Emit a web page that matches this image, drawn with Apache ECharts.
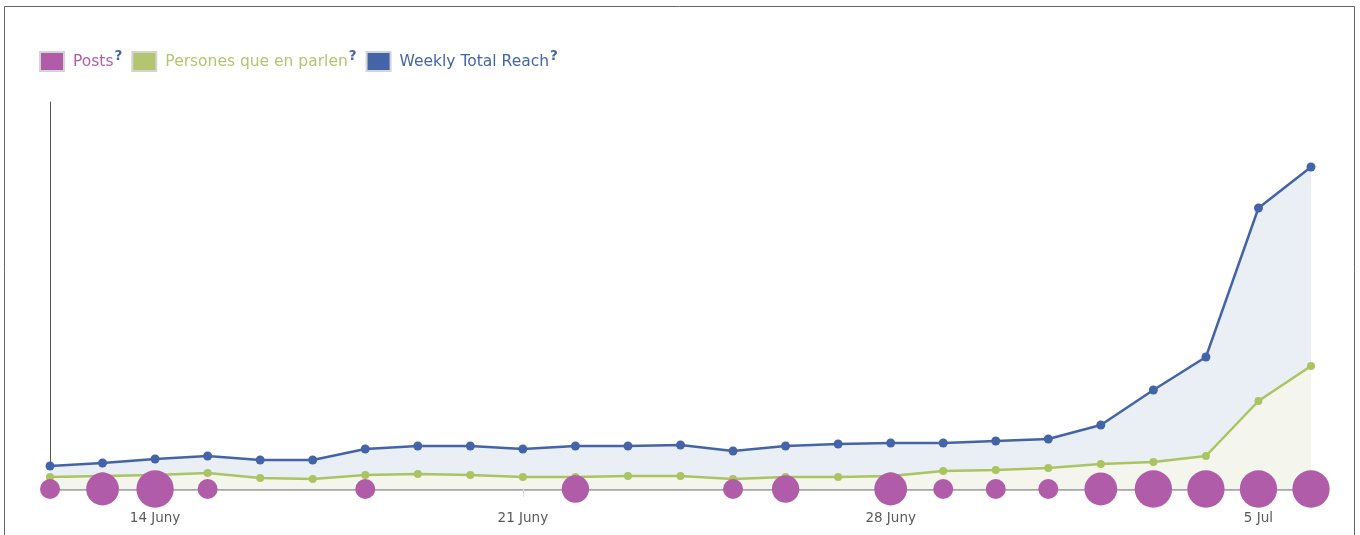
<!DOCTYPE html>
<html>
<head>
<meta charset="utf-8">
<script src="https://cdn.jsdelivr.net/npm/echarts@6/dist/echarts.min.js"></script>
<style>
    html,body{margin:0;padding:0;background:#fff;}
    #chart{width:1360px;height:535px;}
</style>
</head>
<body>
<div id="chart"></div>
<script>
    // dies del periode
    var days = ['12 Juny','13 Juny','14 Juny','15 Juny','16 Juny','17 Juny','18 Juny','19 Juny','20 Juny',
        '21 Juny','22 Juny','23 Juny','24 Juny','25 Juny','26 Juny','27 Juny','28 Juny','29 Juny','30 Juny',
        '1 Jul','2 Jul','3 Jul','4 Jul','5 Jul','6 Jul'];
    var labelDays = ['14 Juny','21 Juny','28 Juny','5 Jul'];
    var reach = [575,650,750,825,725,725,1000,1075,1075,1000,1075,1075,1100,950,1075,1125,1150,1150,1200,1250,1600,2475,3300,7025,8050];
    var talking = [300,325,350,400,275,250,350,375,350,300,300,325,325,250,300,300,325,450,475,525,625,675,825,2200,3075];
    var posts = [1,3,4,1,0,0,1,0,0,0,2,0,0,1,2,0,3,1,1,1,3,4,4,4,4];

    var PINK = '#b05ca8', GREEN = '#aac462', BLUE = '#4464a8';

    var container = document.getElementById('chart');
    var myChart = echarts.init(container);

    var keyOf = {'Posts':'p','Persones que en parlen':'g','Weekly Total Reach':'b'};

    myChart.setOption({
        animation:false,
        graphic:[{
            type:'rect',
            shape:{x:4.5,y:6.5,width:1350,height:560},
            style:{fill:'none',stroke:'#666',lineWidth:1},
            silent:true
        }],
        legend:{
            left:34,
            top:44,
            itemWidth:24,
            itemHeight:19,
            itemGap:9,
            icon:'rect',
            selectedMode:false,
            data:[
                {name:'Posts',itemStyle:{color:PINK,borderColor:'#d4d4d4',borderWidth:2}},
                {name:'Persones que en parlen',itemStyle:{color:'#b3c56e',borderColor:'#d4d4d4',borderWidth:2}},
                {name:'Weekly Total Reach',itemStyle:{color:BLUE,borderColor:'#d4d4d4',borderWidth:2}}
            ],
            formatter:function(name){
                return '{' + keyOf[name] + '|' + name + '}{q|?}';
            },
            textStyle:{
                fontFamily:'DejaVu Sans',
                fontSize:15.5,
                rich:{
                    p:{color:PINK,fontFamily:'DejaVu Sans',fontSize:15.5,padding:[0,0,0,4]},
                    g:{color:'#b3c56e',fontFamily:'DejaVu Sans',fontSize:15.5,padding:[0,0,0,4]},
                    b:{color:BLUE,fontFamily:'DejaVu Sans',fontSize:15.5,padding:[0,0,0,4]},
                    q:{color:BLUE,fontFamily:'DejaVu Sans',fontSize:13.5,fontWeight:'bold',padding:[0,0,11,1]}
                }
            }
        },
        grid:{left:50,right:49,top:102,bottom:46},
        xAxis:{
            type:'category',
            data:days,
            boundaryGap:false,
            axisLine:{lineStyle:{color:'#a6a6a6',width:2.5}},
            axisTick:{
                show:true,
                length:8,
                interval:function(i,v){return labelDays.indexOf(v) >= 0;},
                lineStyle:{color:'#dddddd'}
            },
            axisLabel:{
                interval:function(i,v){return labelDays.indexOf(v) >= 0;},
                margin:22,
                color:'#5a5a5a',
                fontFamily:'DejaVu Sans',
                fontSize:13.5
            },
            splitLine:{show:false}
        },
        yAxis:{
            type:'value',
            min:0,
            max:9675,
            axisLine:{show:true,lineStyle:{color:'#555',width:1}},
            axisTick:{show:false},
            axisLabel:{show:false},
            splitLine:{show:false}
        },
        series:[
            {
                name:'Weekly Total Reach',
                type:'line',
                data:reach,
                symbol:'circle',
                symbolSize:9,
                itemStyle:{color:BLUE},
                lineStyle:{color:BLUE,width:2.5},
                areaStyle:{color:'#eaeef5',opacity:1},
                z:2
            },
            {
                name:'Persones que en parlen',
                type:'line',
                data:talking,
                symbol:'circle',
                symbolSize:8,
                itemStyle:{color:GREEN},
                lineStyle:{color:GREEN,width:2.5},
                areaStyle:{color:'#f4f6ed',opacity:1},
                z:3
            },
            {
                name:'Posts',
                type:'scatter',
                data:posts.map(function(v,i){return [i,0,v];}).filter(function(d){return d[2] > 0;}),
                symbolSize:function(d){return 20*Math.pow(d[2],0.45);},
                itemStyle:{color:PINK,opacity:1},
                z:4
            }
        ]
    });

    let resizeObserver = new ResizeObserver(()=>myChart?.resize());
    resizeObserver.observe(container);
</script>
</body>
</html>
